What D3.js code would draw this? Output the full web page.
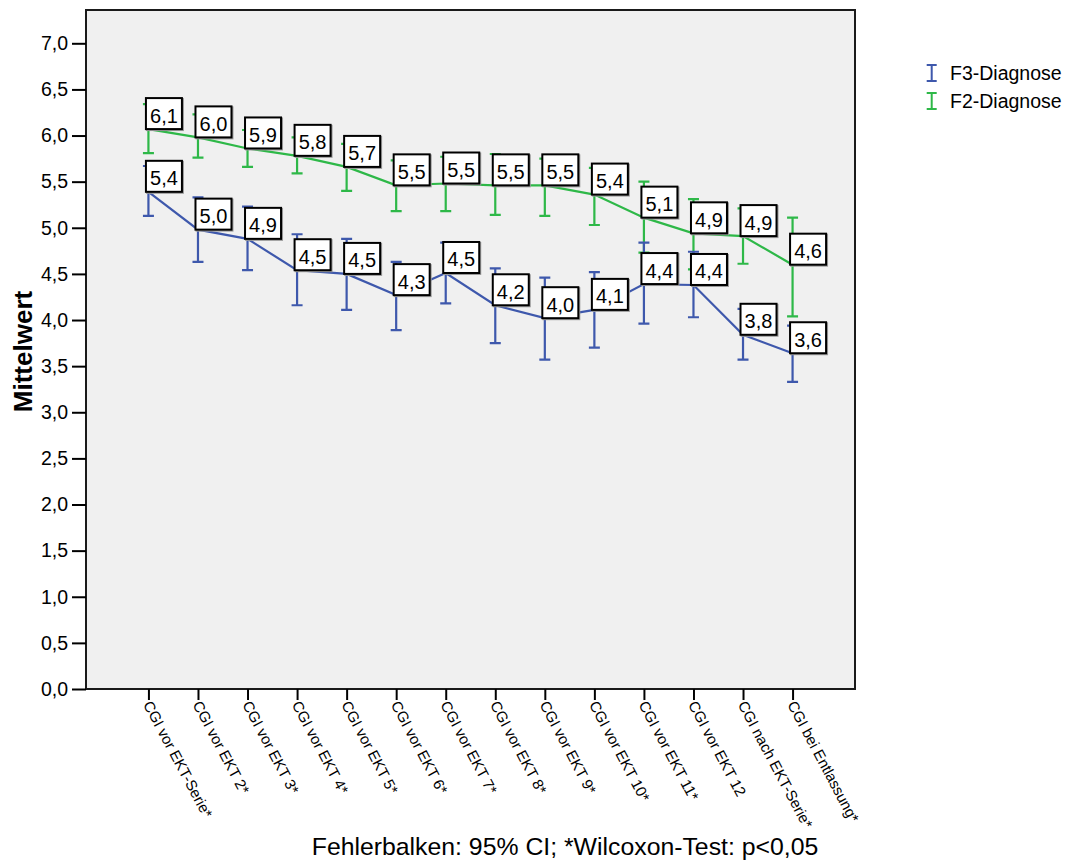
<html>
  <script src="https://d3js.org/d3.v7.min.js"></script>
  <style>
    body { margin: 0; background: #fff; }
    text { font-family: Arial, "Liberation Sans", sans-serif; fill: #000; }
  </style>
  <body>
    <script>
      // categories on the x axis
      let categories = ["CGI vor EKT-Serie*", "CGI vor EKT 2*", "CGI vor EKT 3*", "CGI vor EKT 4*",
                        "CGI vor EKT 5*", "CGI vor EKT 6*", "CGI vor EKT 7*", "CGI vor EKT 8*",
                        "CGI vor EKT 9*", "CGI vor EKT 10*", "CGI vor EKT 11*", "CGI vor EKT 12",
                        "CGI nach EKT-Serie*", "CGI bei Entlassung*"];
      // F3-Diagnose: mean and 95% CI
      let f3Mean  = [5.39, 4.98, 4.88, 4.54, 4.50, 4.27, 4.51, 4.16, 4.02, 4.11, 4.39, 4.38, 3.84, 3.64];
      let f3Upper = [5.67, 5.33, 5.23, 4.93, 4.88, 4.63, 4.84, 4.56, 4.46, 4.52, 4.84, 4.74, 4.12, 3.94];
      let f3Lower = [5.13, 4.63, 4.54, 4.16, 4.11, 3.89, 4.18, 3.75, 3.57, 3.70, 3.96, 4.03, 3.57, 3.33];
      // F2-Diagnose: mean and 95% CI
      let f2Mean  = [6.07, 5.98, 5.86, 5.78, 5.66, 5.46, 5.48, 5.46, 5.46, 5.36, 5.11, 4.94, 4.91, 4.60];
      let f2Upper = [6.34, 6.23, 6.06, 5.98, 5.91, 5.73, 5.77, 5.80, 5.75, 5.65, 5.50, 5.31, 5.21, 5.11];
      let f2Lower = [5.81, 5.76, 5.66, 5.59, 5.40, 5.18, 5.18, 5.14, 5.13, 5.03, 4.73, 4.55, 4.61, 4.04];
      let yTicks = [0, 0.5, 1, 1.5, 2, 2.5, 3, 3.5, 4, 4.5, 5, 5.5, 6, 6.5, 7];
      let seriesNames = ["F3-Diagnose", "F2-Diagnose"];

      let width = 1075, height = 863;
      let plot = {left: 86, right: 855, top: 10, bottom: 689};
      let blue = "#3e58ac", green = "#2eb848";
      let fmt = v => d3.format(".1f")(v).replace(".", ",");

      let svg = d3.select("body").append("svg")
                  .attr("width", width)
                  .attr("height", height);

      let x = d3.scalePoint()
                .domain(categories)
                .range([plot.left, plot.right])
                .padding(1.26);
      let y = d3.scaleLinear()
                .domain([0, 7])
                .range([plot.bottom, 43.3]);

      // plot background + frame
      svg.append("rect")
         .attr("x", plot.left).attr("y", plot.top)
         .attr("width", plot.right - plot.left)
         .attr("height", plot.bottom - plot.top)
         .attr("fill", "#f0f0f0")
         .attr("stroke", "#1a1a1a")
         .attr("stroke-width", 2);

      // y axis
      let yAxis = svg.append("g")
         .attr("transform", `translate(${plot.left},0)`)
         .call(d3.axisLeft(y).tickValues(yTicks).tickFormat(fmt).tickSize(14).tickPadding(4));
      yAxis.select(".domain").remove();
      yAxis.selectAll(".tick line").attr("stroke", "#000").attr("stroke-width", 2);
      yAxis.selectAll(".tick text").attr("font-size", 19.5).attr("font-family", "Arial, 'Liberation Sans'");

      // x axis
      let xAxis = svg.append("g")
         .attr("transform", `translate(0,${plot.bottom})`)
         .call(d3.axisBottom(x).tickSize(11).tickFormat(""));
      xAxis.select(".domain").remove();
      xAxis.selectAll(".tick line").attr("stroke", "#000").attr("stroke-width", 2);
      svg.append("g").selectAll("text")
         .data(categories)
         .join("text")
         .attr("transform", d => `translate(${x(d) - 1},${plot.bottom + 13}) rotate(62)`)
         .attr("dy", "0.35em")
         .attr("font-size", 15)
         .text(d => d);

      // y axis title
      svg.append("text")
         .attr("transform", `translate(32,${(plot.top + plot.bottom) / 2 + 2}) rotate(-90)`)
         .attr("text-anchor", "middle")
         .attr("font-size", 26)
         .attr("font-weight", "bold")
         .text("Mittelwert");

      // footnote
      svg.append("text")
         .attr("x", 565).attr("y", 855)
         .attr("text-anchor", "middle")
         .attr("font-size", 24.8)
         .text("Fehlerbalken: 95% CI; *Wilcoxon-Test: p<0,05");

      let series = [
        {name: seriesNames[1], color: green, mean: f2Mean, lo: f2Lower, hi: f2Upper},
        {name: seriesNames[0], color: blue, mean: f3Mean, lo: f3Lower, hi: f3Upper}
      ];
      let cap = 5.5;

      // lines and error bars
      series.forEach(s => {
        let g = svg.append("g");
        g.append("path")
         .attr("d", d3.line().x((d, i) => x(categories[i])).y(d => y(d))(s.mean))
         .attr("fill", "none")
         .attr("stroke", s.color)
         .attr("stroke-width", 2.2);
        categories.forEach((c, i) => {
          let cx = x(c);
          g.append("path")
           .attr("d", `M${cx},${y(s.lo[i])}V${y(s.hi[i])}` +
                      `M${cx - cap},${y(s.lo[i])}H${cx + cap}` +
                      `M${cx - cap},${y(s.hi[i])}H${cx + cap}`)
           .attr("fill", "none")
           .attr("stroke", s.color)
           .attr("stroke-width", 2.2);
        });
      });

      // value labels
      let bw = 36, bh = 31;
      series.forEach(s => {
        categories.forEach((c, i) => {
          let bx = x(c) - 2.5, by = y(s.mean[i]) - bh;
          svg.append("rect")
             .attr("x", bx + 1).attr("y", by + 1)
             .attr("width", bw).attr("height", bh)
             .attr("fill", "none").attr("stroke", "#999").attr("stroke-width", 2);
          svg.append("rect")
             .attr("x", bx).attr("y", by)
             .attr("width", bw).attr("height", bh)
             .attr("fill", "#fff").attr("stroke", "#000").attr("stroke-width", 2);
          svg.append("text")
             .attr("x", bx + bw / 2).attr("y", by + 24.5)
             .attr("text-anchor", "middle")
             .attr("font-size", 20)
             .text(fmt(s.mean[i]));
        });
      });

      // legend
      let legend = svg.append("g");
      [seriesNames[0], seriesNames[1]].forEach((name, i) => {
        let col = i === 0 ? blue : green;
        let ly = 73 + i * 28;
        legend.append("path")
              .attr("d", `M931.7,${ly - 8}V${ly + 8}M926.7,${ly - 8}H936.7M926.7,${ly + 8}H936.7`)
              .attr("fill", "none").attr("stroke", col).attr("stroke-width", 2);
        legend.append("text")
              .attr("x", 950).attr("y", ly + 7)
              .attr("font-size", 19.5)
              .text(name);
      });
    </script>
  </body>
</html>
